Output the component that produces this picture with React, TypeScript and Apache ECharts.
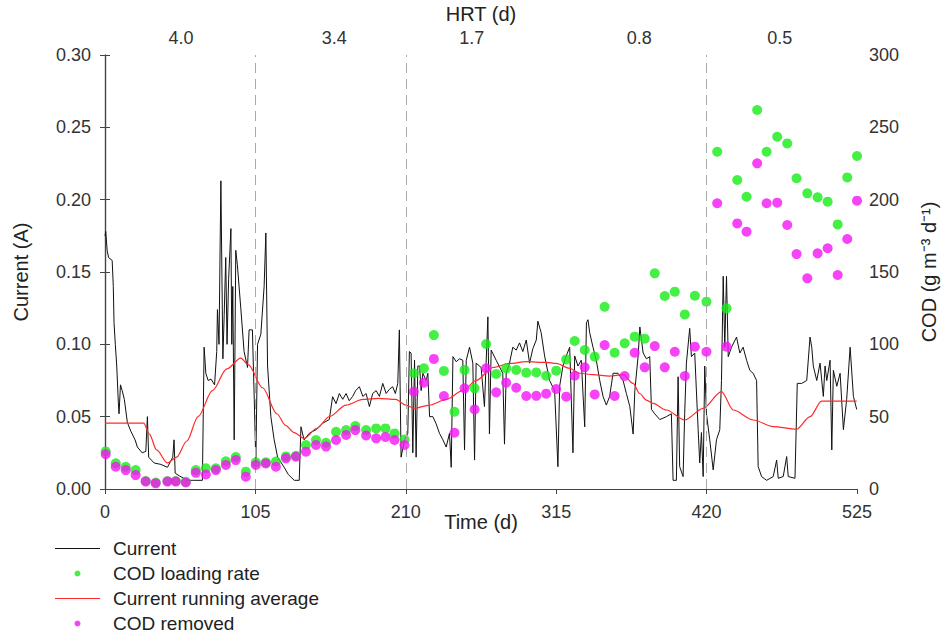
import React, { useEffect, useRef } from "react";
import * as echarts from "echarts";

// Current (A) vs time (d)
const currentData: [number, number][] = [
  [0, 0.175], [0.5, 0.178], [1.5, 0.165], [2.5, 0.16], [5, 0.158], [5.8, 0.14], [6.3, 0.115], [7.2, 0.1], [8.2, 0.085],
  [9.3, 0.06], [9.8, 0.052], [10.8, 0.072], [12, 0.068], [13.5, 0.062], [15.6, 0.046], [18, 0.04], [21, 0.034],
  [22.6, 0.029], [26, 0.025], [28.5, 0.026], [29.6, 0.05], [30.5, 0.022], [34.3, 0.018], [39, 0.017], [43.6, 0.015],
  [47.3, 0.022], [48.2, 0.034], [49, 0.011], [52, 0.009], [57.6, 0.006], [62, 0.006], [68, 0.006], [69.2, 0.098],
  [70.4, 0.08], [72, 0.075], [74, 0.076], [76.5, 0.072], [78, 0.095], [78.5, 0.124], [79.6, 0.1], [80.9, 0.213],
  [81.6, 0.15], [82.3, 0.09], [83.2, 0.12], [84.3, 0.16], [85.2, 0.1], [86.3, 0.145], [87.9, 0.18], [88.5, 0.1],
  [89.2, 0.14], [90.2, 0.034], [91.3, 0.165], [92.4, 0.155], [94.8, 0.125], [97.1, 0.095], [99.5, 0.084], [100.6, 0.11],
  [102.9, 0.11], [104.2, 0.062], [105.3, 0.018], [106.5, 0.1], [108.8, 0.107], [111.1, 0.14], [112.3, 0.177],
  [113.5, 0.085], [115.8, 0.05], [118.1, 0.034], [120.5, 0.022], [125.1, 0.015], [128, 0.01], [132.1, 0.006],
  [135.6, 0.006], [136.8, 0.043], [139, 0.034], [142.6, 0.0385], [147.3, 0.041], [151.9, 0.0454], [156.6, 0.048],
  [158.9, 0.0638], [161.3, 0.059], [163.6, 0.066], [166, 0.062], [168.3, 0.066], [170.5, 0.061], [172.9, 0.064],
  [175, 0.068], [177.6, 0.0707], [180, 0.064], [182.3, 0.066], [184.6, 0.057], [186.9, 0.066], [189.3, 0.068],
  [191.6, 0.064], [193.9, 0.073], [196.3, 0.066], [198.6, 0.069], [200.9, 0.0707], [202.7, 0.066], [204.4, 0.073],
  [205.5, 0.11], [206.7, 0.022], [209.1, 0.034], [211.4, 0.0385], [212.5, 0.095], [213.7, 0.094], [214.9, 0.025],
  [216.1, 0.089], [217.2, 0.022], [218.4, 0.085], [219.6, 0.085], [220.7, 0.068], [221.9, 0.08], [224.2, 0.075],
  [225.4, 0.08], [226.6, 0.05], [228.9, 0.05], [231.2, 0.045], [233.5, 0.0385], [235.9, 0.034], [238.2, 0.029],
  [240.5, 0.0385], [241.7, 0.015], [242.9, 0.0915], [245.2, 0.088], [247.5, 0.09], [249.8, 0.089], [251, 0.027],
  [252.2, 0.089], [254.5, 0.098], [256.8, 0.087], [258, 0.02], [259.1, 0.087], [262.6, 0.084], [264.9, 0.057],
  [267.3, 0.119], [268.4, 0.038], [269.6, 0.096], [273.1, 0.089], [277.7, 0.08], [278.9, 0.031], [280.1, 0.08],
  [282.4, 0.087], [284.7, 0.098], [287.1, 0.096], [289.4, 0.101], [291.7, 0.095], [294.1, 0.103], [296.4, 0.087],
  [298.7, 0.097], [301.1, 0.103], [302.2, 0.116], [304.5, 0.108], [306.9, 0.092], [310.4, 0.075], [313.9, 0.068],
  [316.2, 0.0154], [317.4, 0.071], [319.7, 0.085], [322, 0.092], [324.4, 0.098], [326.7, 0.025], [327.9, 0.092],
  [330.2, 0.085], [332.5, 0.089], [334.9, 0.043], [336.1, 0.115], [337.2, 0.117], [338.4, 0.108], [340.7, 0.098],
  [343, 0.089], [345.4, 0.075], [347.7, 0.064], [350, 0.058], [352.3, 0.064], [354.7, 0.08], [358.2, 0.08],
  [361.7, 0.075], [364, 0.066], [366.4, 0.057], [368.7, 0.038], [369.9, 0.068], [372.2, 0.092], [373.4, 0.112],
  [375.7, 0.094], [378, 0.09], [380.3, 0.0915], [381.5, 0.055], [383.8, 0.052], [387.3, 0.048], [391.9, 0.05],
  [395.4, 0.052], [396.6, 0.006], [398.9, 0.006], [400.1, 0.0776], [401.2, 0.0155], [403.6, 0.0086], [404.7, 0.052],
  [405.9, 0.087], [408.2, 0.111], [409.4, 0.0915], [411.7, 0.094], [414.1, 0.041], [415.2, 0.018], [416.4, 0.039],
  [417.6, 0.0086], [418.7, 0.085], [419.9, 0.052], [422.2, 0.034], [424.6, 0.0132], [426.9, 0.034], [429.2, 0.041],
  [430.4, 0.075], [431.6, 0.147], [432.7, 0.098], [433.9, 0.147], [435.1, 0.0915], [437.4, 0.098], [440.9, 0.105],
  [443.2, 0.094], [445.5, 0.098], [447.9, 0.089], [450.2, 0.082], [452.5, 0.08], [454.9, 0.075], [456, 0.0155],
  [458.4, 0.0086], [461.9, 0.006], [466.5, 0.0086], [468.9, 0.02], [470, 0.0074], [473.5, 0.0086], [475.9, 0.0224],
  [477, 0.0086], [481.7, 0.0074], [483.3, 0.073], [486.4, 0.073], [489.9, 0.075], [492.2, 0.105], [493.4, 0.098],
  [494.5, 0.085], [496.9, 0.075], [499.2, 0.087], [501.5, 0.064], [502.7, 0.085], [503.9, 0.075], [506.2, 0.089],
  [507.4, 0.027], [508.5, 0.082], [510.9, 0.071], [513.2, 0.08], [515.5, 0.041], [517.8, 0.062], [520.2, 0.098],
  [522.5, 0.064], [524.8, 0.055],
];

// Current running average (A)
const runningAvgData: [number, number][] = [
  [0, 0.0455], [27, 0.0455], [31, 0.038], [36, 0.027], [43.6, 0.018], [50, 0.022], [57, 0.033], [65, 0.05],
  [75, 0.068], [85, 0.083], [94.8, 0.0905], [100, 0.086], [110, 0.07], [120, 0.052], [126, 0.044], [132, 0.039],
  [139, 0.035], [148, 0.042], [156.6, 0.05], [168.3, 0.058], [180, 0.062], [191, 0.0627], [203, 0.062], [210, 0.058],
  [216, 0.0558], [226.6, 0.058], [238.2, 0.062], [249.9, 0.068], [259.1, 0.075], [270.8, 0.084], [282.4, 0.0868],
  [294.1, 0.088], [308, 0.0875], [315, 0.0868], [324.4, 0.0834], [331.4, 0.08], [340.7, 0.079], [352.3, 0.078],
  [361.7, 0.079], [368.7, 0.073], [373.3, 0.066], [378, 0.0615], [382.6, 0.0592], [391.9, 0.0546], [404.7, 0.0477],
  [417.6, 0.0558], [430.4, 0.0673], [438.6, 0.0546], [452.5, 0.0477], [466.5, 0.0431], [482.8, 0.0413],
  [492.2, 0.05], [500.3, 0.0608], [524.8, 0.0608],
];

// COD sampling days and values (g m-3 d-1)
const codDays: number[] = [
  0.5, 7.5, 14.5, 21.4, 28.4, 35.4, 43.6, 49.4, 56.4, 63.4, 70.4, 77.4, 84.4, 91.3, 98.3, 105.3, 112.3, 119.3,
  126.3, 133.3, 140.3, 147.3, 154.3, 161.3, 168.3, 174.8, 182.3, 189.3, 195.8, 202.1, 209.1, 215.6, 222.6, 229.6,
  236.6, 244.0, 251.0, 258.0, 266.1, 273.1, 280.1, 287.1, 294.1, 301.1, 308.0, 315.0, 322.0, 327.9, 334.9, 341.9,
  348.8, 355.8, 362.8, 369.8, 376.8, 383.8, 390.8, 397.8, 404.8, 411.8, 419.9, 427.4, 433.9, 441.4, 447.9, 455.3,
  461.9, 469.3, 476.3, 482.8, 490.3, 497.5, 504.5, 511.5, 518.2, 525.0,
];
const codLoading: number[] = [
  26, 17.8, 15.4, 13.1, 5.5, 4.5, 5.5, 5.5, 5, 13.1, 14.3, 14.3, 19.1, 22.1, 12, 18.5, 18.5, 19,
  22.5, 23, 30.4, 33.9, 32, 39.6, 40.7, 43.5, 40.7, 41.9, 41.9, 38.4, 34.3, 80, 83.4, 106.4,
  81.6, 53.4, 82.3, 69.6, 100.2, 79.5, 83.4, 82.3, 80.4, 80.6, 78.3, 81.8, 89.6, 102.3, 96.1, 91.5,
  126, 94.2, 100.7, 105.3, 103.9, 149.1, 133.4, 136.4, 120.7, 133.6, 129.5, 233.1, 124.9, 213.6, 202, 262,
  233.1, 243.5, 238.9, 214.8, 204.4, 201.6, 198.6, 182.9, 215.4, 230.2,
];
const codRemoved: number[] = [
  24, 15.4, 13.1, 9.6, 5.1, 3.9, 5.1, 5.1, 4.5, 11.2, 10, 13.1, 16.6, 20, 8.5, 16.6, 17.7, 15.4,
  21.2, 22.3, 25.8, 30.4, 29.3, 33.9, 37.3, 40.7, 37, 35, 36, 33.9, 30.4, 67.3, 73.5, 89.9,
  64.3, 38.9, 69.6, 55, 83.4, 66.8, 73.5, 70, 64.3, 64.4, 65.9, 69.1, 63.8, 78.3, 84.1, 65.4,
  99.5, 64.3, 78.1, 94.2, 84.1, 98.8, 84.1, 94.9, 78.1, 98.4, 94.9, 197.5, 98.4, 183.6, 177.9, 225.1,
  197.5, 197.9, 182.5, 162.4, 145.6, 162.9, 166.4, 147.9, 172.8, 199.3,
];

// HRT phases (top axis)
const hrtLabels: string[] = ["4.0", "3.4", "1.7", "0.8", "0.5"];
const hrtLabelDays: number[] = [53, 160, 256, 373, 471];
const phaseBoundaries: number[] = [105, 210, 420];

const FONT = "'Liberation Sans', Arial, sans-serif";
const AXIS_COLOR = "#444";
const TEXT_COLOR = "#222";
const LINE_ICON = "path://M0,0 L40,0 L40,1 L0,1 Z";

export default function App() {
  const ref = useRef<HTMLDivElement>(null);

  useEffect(() => {
    if (!ref.current) return;
    const chart = echarts.init(ref.current, undefined, { renderer: "svg" });

    const loadingData = codDays.map((d, i) => [d, codLoading[i]]);
    const removedData = codDays.map((d, i) => [d, codRemoved[i]]);

    const axisLineStyle = { lineStyle: { color: AXIS_COLOR, width: 1.2 } };
    const tickStyle = { length: 5, lineStyle: { color: AXIS_COLOR } };
    const labelStyle = { fontSize: 18, color: "#333", fontFamily: FONT };
    const nameStyle = { fontSize: 20, color: TEXT_COLOR, fontFamily: FONT };

    chart.setOption({
      animation: false,
      backgroundColor: "#fff",
      textStyle: { fontFamily: FONT },
      grid: { left: 105, right: 84, top: 55, bottom: 146, outerBoundsMode: "none", containLabel: false },
      legend: {
        orient: "vertical",
        left: 55,
        top: 539,
        padding: 0,
        itemWidth: 45,
        itemHeight: 6,
        itemGap: 6,
        textStyle: { fontSize: 19, color: TEXT_COLOR, fontFamily: FONT, padding: [0, 0, 0, 8] },
        data: [
          { name: "Current", icon: LINE_ICON, itemStyle: { color: "#111" } },
          { name: "COD loading rate", icon: "circle" },
          { name: "Current running average", icon: LINE_ICON, itemStyle: { color: "#ff2a2a" } },
          { name: "COD removed", icon: "circle" },
        ],
      },
      xAxis: [
        {
          type: "value",
          position: "bottom",
          min: 0,
          max: 525,
          interval: 105,
          name: "Time (d)",
          nameLocation: "middle",
          nameGap: 23,
          nameMoveOverlap: false,
          nameTextStyle: nameStyle,
          axisLine: axisLineStyle,
          axisTick: tickStyle,
          axisLabel: { ...labelStyle, margin: 14 },
          splitLine: { show: false },
        },
        {
          type: "value",
          position: "top",
          min: 0,
          max: 525,
          name: "HRT (d)",
          nameLocation: "middle",
          nameGap: 30,
          nameTextStyle: nameStyle,
          axisLine: axisLineStyle,
          axisTick: { show: false },
          axisLabel: {
            ...labelStyle,
            margin: 8,
            customValues: hrtLabelDays,
            formatter: (v: number) => {
              const i = hrtLabelDays.indexOf(v);
              return i >= 0 ? hrtLabels[i] : "";
            },
          },
          splitLine: { show: false },
        },
      ],
      yAxis: [
        {
          type: "value",
          position: "left",
          min: 0,
          max: 0.3,
          interval: 0.05,
          name: "Current (A)",
          nameLocation: "middle",
          nameGap: 74,
          nameRotate: 90,
          nameTextStyle: nameStyle,
          axisLine: { show: true, ...axisLineStyle },
          axisTick: { show: true, ...tickStyle },
          axisLabel: { ...labelStyle, margin: 14, formatter: (v: number) => v.toFixed(2) },
          splitLine: { show: false },
        },
        {
          type: "value",
          position: "right",
          min: 0,
          max: 300,
          interval: 50,
          name: "COD (g m⁻³ d⁻¹)",
          nameLocation: "middle",
          nameGap: 62,
          nameRotate: 90,
          nameTextStyle: nameStyle,
          axisLine: { show: true, ...axisLineStyle },
          axisTick: { show: true, ...tickStyle },
          axisLabel: { ...labelStyle, margin: 12 },
          splitLine: { show: false },
        },
      ],
      series: [
        {
          name: "Current",
          type: "line",
          xAxisIndex: 0,
          yAxisIndex: 0,
          data: currentData,
          showSymbol: false,
          symbol: "none",
          lineStyle: { color: "#111", width: 1 },
          itemStyle: { color: "#111" },
          z: 2,
          markLine: {
            silent: true,
            symbol: ["none", "none"],
            label: { show: false },
            lineStyle: { color: "#aaa", width: 1, type: [10, 6] },
            data: phaseBoundaries.map((d) => ({ xAxis: d })),
          },
        },
        {
          name: "Current running average",
          type: "line",
          xAxisIndex: 0,
          yAxisIndex: 0,
          data: runningAvgData,
          showSymbol: false,
          symbol: "none",
          smooth: 0.3,
          smoothMonotone: "x",
          lineStyle: { color: "#ff2a2a", width: 1.2 },
          itemStyle: { color: "#ff2a2a" },
          z: 3,
        },
        {
          name: "COD loading rate",
          type: "scatter",
          xAxisIndex: 0,
          yAxisIndex: 1,
          data: loadingData,
          symbol: "circle",
          symbolSize: 10,
          itemStyle: { color: "#14ec14" },
          z: 4,
        },
        {
          name: "COD removed",
          type: "scatter",
          xAxisIndex: 0,
          yAxisIndex: 1,
          data: removedData,
          symbol: "circle",
          symbolSize: 10,
          itemStyle: { color: "#f514f5" },
          z: 5,
        },
      ],
    });

    return () => chart.dispose();
  }, []);

  return (
    <div
      ref={ref}
      style={{ position: "absolute", left: 0, top: 0, width: 941, height: 635, background: "#fff" }}
    />
  );
}
